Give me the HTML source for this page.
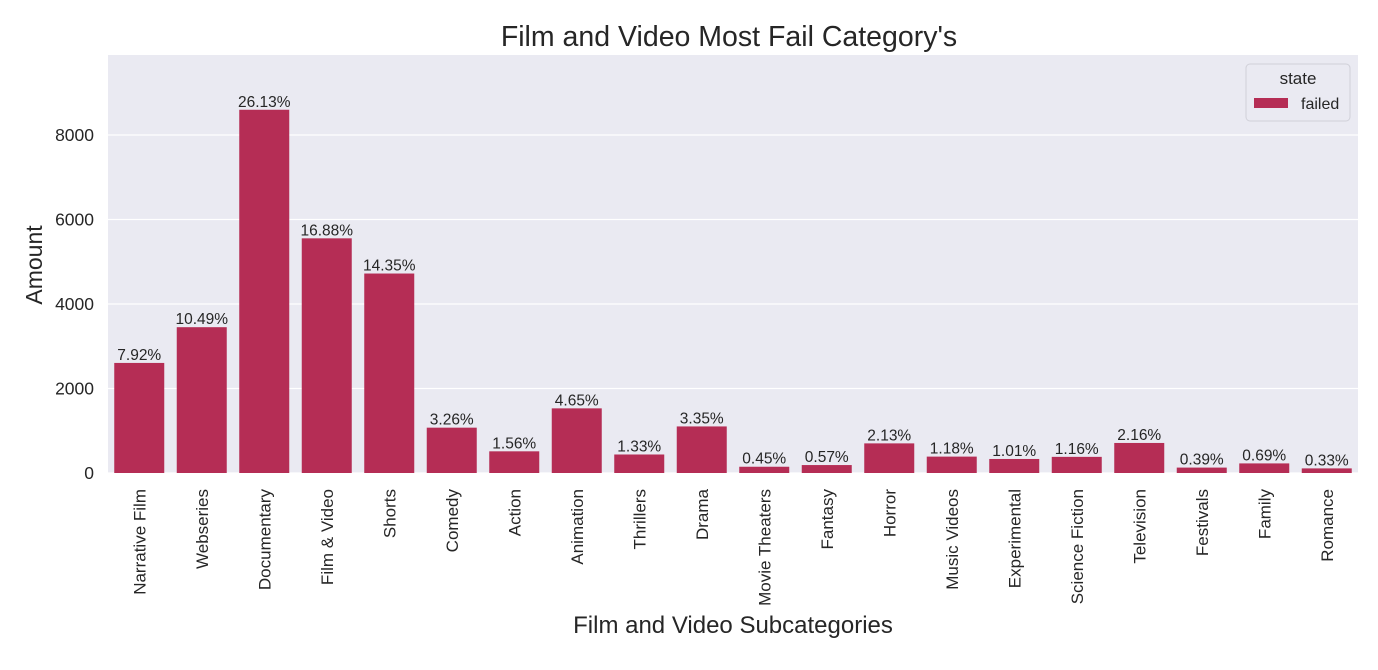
<!DOCTYPE html>
<html><head><meta charset="utf-8"><style>
body{margin:0;background:#fff;width:1378px;height:665px;overflow:hidden;font-family:"Liberation Sans",Arial,sans-serif}
</style></head><body>
<svg id="c" width="1378" height="665" xmlns="http://www.w3.org/2000/svg" font-family="Liberation Sans, Arial, sans-serif"></svg>
<script>
const categories=["Narrative Film","Webseries","Documentary","Film & Video","Shorts","Comedy","Action","Animation","Thrillers","Drama","Movie Theaters","Fantasy","Horror","Music Videos","Experimental","Science Fiction","Television","Festivals","Family","Romance"];
const values=[2605,3451,8597,5554,4721,1073,513,1530,438,1102,148,188,701,388,332,382,711,128,227,109];
const labels=["7.92%","10.49%","26.13%","16.88%","14.35%","3.26%","1.56%","4.65%","1.33%","3.35%","0.45%","0.57%","2.13%","1.18%","1.01%","1.16%","2.16%","0.39%","0.69%","0.33%"];
const yTicks=[0,2000,4000,6000,8000];
const L=108,R=1358,T=55,B=473,yMax=9893;
const svg=document.getElementById('c');
const NS='http://www.w3.org/2000/svg';
function mk(tag,attrs,parent){const e=document.createElementNS(NS,tag);for(const k in attrs)e.setAttribute(k,attrs[k]);(parent||svg).appendChild(e);return e;}
const y=v=>B-(v/yMax)*(B-T);
const step=(R-L)/categories.length;
const x=i=>L+step*(i+0.5);
let bg=mk('rect',{x:L,y:T,width:R-L,height:B-T,fill:'#eaeaf2'});


yTicks.forEach(t=>{
  let g=mk('line',{x1:L,x2:R,y1:y(t),y2:y(t),stroke:'#fff','stroke-width':1.2});
  
  
  let tx=mk('text',{x:L-14,y:y(t)+6,'text-anchor':'end','font-size':17.5,fill:'#262626'});
  tx.textContent=t;
  
  
});
categories.forEach((c,i)=>{
  const bw=step*0.8;
  let r=mk('rect',{x:x(i)-bw/2,y:y(values[i]),width:bw,height:B-y(values[i]),fill:'#b52d55'});
  
  
  let lb=mk('text',{x:x(i),y:y(values[i])-3,'text-anchor':'middle','font-size':15.5,fill:'#262626'});
  lb.textContent=labels[i];
  
  
  let xl=mk('text',{transform:`translate(${x(i)+6},${B+16}) rotate(-90)`,'text-anchor':'end','font-size':17,fill:'#262626'});
  xl.textContent=c;
  
  
});
let ti=mk('text',{x:729,y:46,'text-anchor':'middle','font-size':28.5,fill:'#262626'});
ti.textContent="Film and Video Most Fail Category's";


let xt=mk('text',{x:733,y:633,'text-anchor':'middle','font-size':24,fill:'#262626'});
xt.textContent="Film and Video Subcategories";


let yt=mk('text',{transform:'translate(42,265) rotate(-90)','text-anchor':'middle','font-size':23,fill:'#262626'});
yt.textContent="Amount";


let lg=mk('g',{});


mk('rect',{x:1246,y:64,width:104,height:57,rx:4,fill:'#eaeaf2',stroke:'#d0d0d8'},lg);
let lt=mk('text',{x:1298,y:84,'text-anchor':'middle','font-size':17,fill:'#262626'},lg);
lt.textContent='state';
let sw=mk('rect',{x:1254,y:98,width:34,height:10,fill:'#b52d55'},lg);


let le=mk('text',{x:1301,y:109,'font-size':16,fill:'#262626'},lg);
le.textContent='failed';


</script>
</body></html>
